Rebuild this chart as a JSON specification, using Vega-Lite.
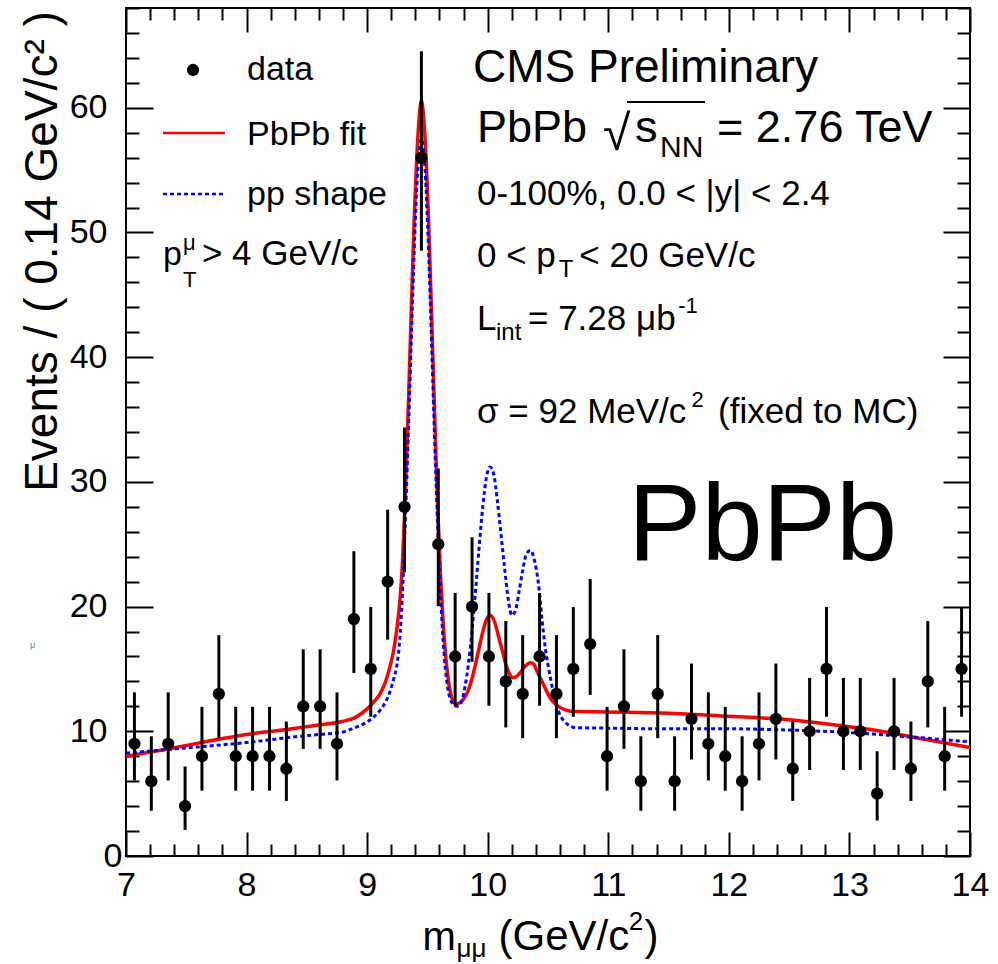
{
  "$schema": "https://vega.github.io/schema/vega-lite/v6.json",
  "width": 844,
  "height": 848,
  "autosize": {"type": "none"},
  "padding": {"left": 126, "top": 8, "right": 28, "bottom": 108},
  "background": "white",
  "config": {
    "view": {"stroke": "black", "strokeWidth": 2},
    "font": "Liberation Sans",
    "axis": {"labelFont": "Liberation Sans", "titleFont": "Liberation Sans", "labelColor": "black", "titleColor": "black", "tickColor": "black", "domain": false, "grid": false, "titleFontWeight": "normal"}
  },
  "datasets": {
    "pts": [
      {"m": 7.07, "n": 9, "lo": 6.06, "hi": 13.12},
      {"m": 7.21, "n": 6, "lo": 3.63, "hi": 9.60},
      {"m": 7.35, "n": 9, "lo": 6.06, "hi": 13.12},
      {"m": 7.49, "n": 4, "lo": 2.09, "hi": 7.18},
      {"m": 7.63, "n": 8, "lo": 5.24, "hi": 11.96},
      {"m": 7.77, "n": 13, "lo": 9.45, "hi": 17.71},
      {"m": 7.91, "n": 8, "lo": 5.24, "hi": 11.96},
      {"m": 8.05, "n": 8, "lo": 5.24, "hi": 11.96},
      {"m": 8.19, "n": 8, "lo": 5.24, "hi": 11.96},
      {"m": 8.33, "n": 7, "lo": 4.42, "hi": 10.78},
      {"m": 8.47, "n": 12, "lo": 8.59, "hi": 16.57},
      {"m": 8.61, "n": 12, "lo": 8.59, "hi": 16.57},
      {"m": 8.75, "n": 9, "lo": 6.06, "hi": 13.12},
      {"m": 8.89, "n": 19, "lo": 14.68, "hi": 24.44},
      {"m": 9.03, "n": 15, "lo": 11.17, "hi": 19.97},
      {"m": 9.17, "n": 22, "lo": 17.35, "hi": 27.77},
      {"m": 9.31, "n": 28, "lo": 22.74, "hi": 34.36},
      {"m": 9.45, "n": 56, "lo": 48.54, "hi": 64.53},
      {"m": 9.59, "n": 25, "lo": 20.04, "hi": 31.07},
      {"m": 9.73, "n": 16, "lo": 12.05, "hi": 21.09},
      {"m": 9.87, "n": 20, "lo": 15.57, "hi": 25.56},
      {"m": 10.01, "n": 16, "lo": 12.05, "hi": 21.09},
      {"m": 10.15, "n": 14, "lo": 10.31, "hi": 18.84},
      {"m": 10.29, "n": 13, "lo": 9.45, "hi": 17.71},
      {"m": 10.43, "n": 16, "lo": 12.05, "hi": 21.09},
      {"m": 10.57, "n": 13, "lo": 9.45, "hi": 17.71},
      {"m": 10.71, "n": 15, "lo": 11.17, "hi": 19.97},
      {"m": 10.85, "n": 17, "lo": 12.92, "hi": 22.21},
      {"m": 10.99, "n": 8, "lo": 5.24, "hi": 11.96},
      {"m": 11.13, "n": 12, "lo": 8.59, "hi": 16.57},
      {"m": 11.27, "n": 6, "lo": 3.63, "hi": 9.60},
      {"m": 11.41, "n": 13, "lo": 9.45, "hi": 17.71},
      {"m": 11.55, "n": 6, "lo": 3.63, "hi": 9.60},
      {"m": 11.69, "n": 11, "lo": 7.74, "hi": 15.43},
      {"m": 11.83, "n": 9, "lo": 6.06, "hi": 13.12},
      {"m": 11.97, "n": 8, "lo": 5.24, "hi": 11.96},
      {"m": 12.11, "n": 6, "lo": 3.63, "hi": 9.60},
      {"m": 12.25, "n": 9, "lo": 6.06, "hi": 13.12},
      {"m": 12.39, "n": 11, "lo": 7.74, "hi": 15.43},
      {"m": 12.53, "n": 7, "lo": 4.42, "hi": 10.78},
      {"m": 12.67, "n": 10, "lo": 6.90, "hi": 14.28},
      {"m": 12.81, "n": 15, "lo": 11.17, "hi": 19.97},
      {"m": 12.95, "n": 10, "lo": 6.90, "hi": 14.28},
      {"m": 13.09, "n": 10, "lo": 6.90, "hi": 14.28},
      {"m": 13.23, "n": 5, "lo": 2.85, "hi": 8.40},
      {"m": 13.37, "n": 10, "lo": 6.90, "hi": 14.28},
      {"m": 13.51, "n": 7, "lo": 4.42, "hi": 10.78},
      {"m": 13.65, "n": 14, "lo": 10.31, "hi": 18.84},
      {"m": 13.79, "n": 8, "lo": 5.24, "hi": 11.96},
      {"m": 13.93, "n": 15, "lo": 11.17, "hi": 19.97}
    ],
    "curves": [
      {"c": "PbPb fit", "m": 7.0, "n": 8.0}, {"c": "PbPb fit", "m": 7.3, "n": 8.5}, {"c": "PbPb fit", "m": 7.6, "n": 9.05}, {"c": "PbPb fit", "m": 8.0, "n": 9.75}, {"c": "PbPb fit", "m": 8.3, "n": 10.1}, {"c": "PbPb fit", "m": 8.6, "n": 10.5}, {"c": "PbPb fit", "m": 8.8, "n": 10.8}, {"c": "PbPb fit", "m": 8.9, "n": 11.1}, {"c": "PbPb fit", "m": 9.0, "n": 11.8}, {"c": "PbPb fit", "m": 9.05, "n": 12.3}, {"c": "PbPb fit", "m": 9.1, "n": 12.9}, {"c": "PbPb fit", "m": 9.15, "n": 13.9}, {"c": "PbPb fit", "m": 9.19, "n": 15.2}, {"c": "PbPb fit", "m": 9.22, "n": 16.5}, {"c": "PbPb fit", "m": 9.25, "n": 18.5}, {"c": "PbPb fit", "m": 9.27, "n": 20.3}, {"c": "PbPb fit", "m": 9.29, "n": 23.0}, {"c": "PbPb fit", "m": 9.31, "n": 27.3}, {"c": "PbPb fit", "m": 9.33, "n": 32.6}, {"c": "PbPb fit", "m": 9.35, "n": 38.7}, {"c": "PbPb fit", "m": 9.37, "n": 45.0}, {"c": "PbPb fit", "m": 9.39, "n": 51.0}, {"c": "PbPb fit", "m": 9.41, "n": 55.7}, {"c": "PbPb fit", "m": 9.43, "n": 59.0}, {"c": "PbPb fit", "m": 9.45, "n": 60.6}, {"c": "PbPb fit", "m": 9.47, "n": 59.0}, {"c": "PbPb fit", "m": 9.49, "n": 55.7}, {"c": "PbPb fit", "m": 9.51, "n": 50.8}, {"c": "PbPb fit", "m": 9.53, "n": 44.8}, {"c": "PbPb fit", "m": 9.55, "n": 38.5}, {"c": "PbPb fit", "m": 9.57, "n": 32.3}, {"c": "PbPb fit", "m": 9.59, "n": 26.8}, {"c": "PbPb fit", "m": 9.61, "n": 22.3}, {"c": "PbPb fit", "m": 9.63, "n": 18.8}, {"c": "PbPb fit", "m": 9.65, "n": 16.2}, {"c": "PbPb fit", "m": 9.68, "n": 13.7}, {"c": "PbPb fit", "m": 9.71, "n": 12.5}, {"c": "PbPb fit", "m": 9.74, "n": 12.2}, {"c": "PbPb fit", "m": 9.77, "n": 12.3}, {"c": "PbPb fit", "m": 9.8, "n": 12.6}, {"c": "PbPb fit", "m": 9.83, "n": 13.1}, {"c": "PbPb fit", "m": 9.86, "n": 13.9}, {"c": "PbPb fit", "m": 9.89, "n": 15.0}, {"c": "PbPb fit", "m": 9.92, "n": 16.3}, {"c": "PbPb fit", "m": 9.95, "n": 17.6}, {"c": "PbPb fit", "m": 9.98, "n": 18.7}, {"c": "PbPb fit", "m": 10.02, "n": 19.3}, {"c": "PbPb fit", "m": 10.06, "n": 18.7}, {"c": "PbPb fit", "m": 10.09, "n": 17.6}, {"c": "PbPb fit", "m": 10.12, "n": 16.5}, {"c": "PbPb fit", "m": 10.15, "n": 15.4}, {"c": "PbPb fit", "m": 10.18, "n": 14.6}, {"c": "PbPb fit", "m": 10.21, "n": 14.3}, {"c": "PbPb fit", "m": 10.24, "n": 14.4}, {"c": "PbPb fit", "m": 10.27, "n": 14.7}, {"c": "PbPb fit", "m": 10.3, "n": 15.1}, {"c": "PbPb fit", "m": 10.33, "n": 15.4}, {"c": "PbPb fit", "m": 10.355, "n": 15.5}, {"c": "PbPb fit", "m": 10.38, "n": 15.4}, {"c": "PbPb fit", "m": 10.41, "n": 14.8}, {"c": "PbPb fit", "m": 10.44, "n": 14.2}, {"c": "PbPb fit", "m": 10.47, "n": 13.6}, {"c": "PbPb fit", "m": 10.5, "n": 13.0}, {"c": "PbPb fit", "m": 10.53, "n": 12.5}, {"c": "PbPb fit", "m": 10.56, "n": 12.2}, {"c": "PbPb fit", "m": 10.6, "n": 11.9}, {"c": "PbPb fit", "m": 10.65, "n": 11.7}, {"c": "PbPb fit", "m": 10.7, "n": 11.6}, {"c": "PbPb fit", "m": 11.0, "n": 11.55}, {"c": "PbPb fit", "m": 11.5, "n": 11.45}, {"c": "PbPb fit", "m": 12.0, "n": 11.2}, {"c": "PbPb fit", "m": 12.4, "n": 11.0}, {"c": "PbPb fit", "m": 12.8, "n": 10.6}, {"c": "PbPb fit", "m": 13.2, "n": 10.1}, {"c": "PbPb fit", "m": 13.6, "n": 9.4}, {"c": "PbPb fit", "m": 14.0, "n": 8.7},
      {"c": "pp shape", "m": 7.0, "n": 8.25}, {"c": "pp shape", "m": 7.3, "n": 8.5}, {"c": "pp shape", "m": 7.6, "n": 8.75}, {"c": "pp shape", "m": 8.0, "n": 9.1}, {"c": "pp shape", "m": 8.3, "n": 9.45}, {"c": "pp shape", "m": 8.6, "n": 9.75}, {"c": "pp shape", "m": 8.8, "n": 9.95}, {"c": "pp shape", "m": 8.9, "n": 10.3}, {"c": "pp shape", "m": 9.0, "n": 10.75}, {"c": "pp shape", "m": 9.05, "n": 11.1}, {"c": "pp shape", "m": 9.1, "n": 11.6}, {"c": "pp shape", "m": 9.15, "n": 12.3}, {"c": "pp shape", "m": 9.19, "n": 13.2}, {"c": "pp shape", "m": 9.22, "n": 14.2}, {"c": "pp shape", "m": 9.25, "n": 15.5}, {"c": "pp shape", "m": 9.27, "n": 17.3}, {"c": "pp shape", "m": 9.29, "n": 20.5}, {"c": "pp shape", "m": 9.31, "n": 25.1}, {"c": "pp shape", "m": 9.33, "n": 30.5}, {"c": "pp shape", "m": 9.35, "n": 36.4}, {"c": "pp shape", "m": 9.37, "n": 42.6}, {"c": "pp shape", "m": 9.39, "n": 48.4}, {"c": "pp shape", "m": 9.41, "n": 53.3}, {"c": "pp shape", "m": 9.43, "n": 56.4}, {"c": "pp shape", "m": 9.45, "n": 57.5}, {"c": "pp shape", "m": 9.47, "n": 56.4}, {"c": "pp shape", "m": 9.49, "n": 53.3}, {"c": "pp shape", "m": 9.51, "n": 48.4}, {"c": "pp shape", "m": 9.53, "n": 42.6}, {"c": "pp shape", "m": 9.55, "n": 36.4}, {"c": "pp shape", "m": 9.57, "n": 30.5}, {"c": "pp shape", "m": 9.59, "n": 25.1}, {"c": "pp shape", "m": 9.61, "n": 20.7}, {"c": "pp shape", "m": 9.63, "n": 17.3}, {"c": "pp shape", "m": 9.65, "n": 14.9}, {"c": "pp shape", "m": 9.68, "n": 12.9}, {"c": "pp shape", "m": 9.71, "n": 12.2}, {"c": "pp shape", "m": 9.74, "n": 12.0}, {"c": "pp shape", "m": 9.78, "n": 12.3}, {"c": "pp shape", "m": 9.81, "n": 13.5}, {"c": "pp shape", "m": 9.84, "n": 15.4}, {"c": "pp shape", "m": 9.87, "n": 18.1}, {"c": "pp shape", "m": 9.9, "n": 21.4}, {"c": "pp shape", "m": 9.93, "n": 24.9}, {"c": "pp shape", "m": 9.96, "n": 28.1}, {"c": "pp shape", "m": 9.99, "n": 30.4}, {"c": "pp shape", "m": 10.02, "n": 31.2}, {"c": "pp shape", "m": 10.05, "n": 30.6}, {"c": "pp shape", "m": 10.08, "n": 28.5}, {"c": "pp shape", "m": 10.11, "n": 25.8}, {"c": "pp shape", "m": 10.14, "n": 23.1}, {"c": "pp shape", "m": 10.17, "n": 20.6}, {"c": "pp shape", "m": 10.2, "n": 19.3}, {"c": "pp shape", "m": 10.23, "n": 19.7}, {"c": "pp shape", "m": 10.26, "n": 21.2}, {"c": "pp shape", "m": 10.29, "n": 22.9}, {"c": "pp shape", "m": 10.32, "n": 24.2}, {"c": "pp shape", "m": 10.355, "n": 24.5}, {"c": "pp shape", "m": 10.39, "n": 23.6}, {"c": "pp shape", "m": 10.42, "n": 21.9}, {"c": "pp shape", "m": 10.45, "n": 19.0}, {"c": "pp shape", "m": 10.48, "n": 16.5}, {"c": "pp shape", "m": 10.51, "n": 14.8}, {"c": "pp shape", "m": 10.54, "n": 13.3}, {"c": "pp shape", "m": 10.57, "n": 12.1}, {"c": "pp shape", "m": 10.6, "n": 11.3}, {"c": "pp shape", "m": 10.63, "n": 10.85}, {"c": "pp shape", "m": 10.67, "n": 10.5}, {"c": "pp shape", "m": 10.72, "n": 10.3}, {"c": "pp shape", "m": 11.0, "n": 10.25}, {"c": "pp shape", "m": 11.5, "n": 10.2}, {"c": "pp shape", "m": 12.0, "n": 10.2}, {"c": "pp shape", "m": 12.5, "n": 10.1}, {"c": "pp shape", "m": 13.0, "n": 9.9}, {"c": "pp shape", "m": 13.5, "n": 9.55}, {"c": "pp shape", "m": 14.0, "n": 9.15}
    ]
  },
  "data": {"values": [{}]},
  "layer": [
    {
      "data": {"name": "curves"},
      "transform": [{"filter": "datum.c == 'PbPb fit'"}],
      "mark": {"type": "line", "color": "#ff0000", "strokeWidth": 3.5, "interpolate": "monotone", "clip": true},
      "encoding": {
        "x": {"field": "m", "type": "quantitative", "scale": {"domain": [7, 14], "nice": false, "zero": false},
          "axis": {"orient": "bottom", "title": null,
            "values": [7,7.2,7.4,7.6,7.8,8,8.2,8.4,8.6,8.8,9,9.2,9.4,9.6,9.8,10,10.2,10.4,10.6,10.8,11,11.2,11.4,11.6,11.8,12,12.2,12.4,12.6,12.8,13,13.2,13.4,13.6,13.8,14],
            "labelExpr": "abs(datum.value - round(datum.value)) < 0.001 ? format(datum.value, 'd') : ''",
            "tickSize": {"condition": {"test": "abs(datum.value - round(datum.value)) < 0.001", "value": -24}, "value": -12},
            "tickWidth": 2, "labelFontSize": 34, "labelPadding": 36, "labelOverlap": false, "labelFlush": false, "labelBound": false}},
        "y": {"field": "n", "type": "quantitative", "scale": {"domain": [0, 68], "nice": false, "zero": false},
          "axis": {"orient": "left", "title": "Events / ( 0.14 GeV/c² )", "titleFontSize": 46, "titleAngle": 270, "titleX": -84, "titleY": 243, "titleAlign": "center", "titleBaseline": "middle",
            "values": [0,2,4,6,8,10,12,14,16,18,20,22,24,26,28,30,32,34,36,38,40,42,44,46,48,50,52,54,56,58,60,62,64,66,68],
            "labelExpr": "datum.value % 10 == 0 ? format(datum.value, 'd') : ''",
            "tickSize": {"condition": {"test": "datum.value % 10 == 0", "value": -27}, "value": -13},
            "labelPadding": {"condition": {"test": "datum.value == 0", "value": 31}, "value": 46},
            "tickWidth": 2, "labelFontSize": 34, "labelOverlap": false, "labelFlush": false, "labelBound": false}}
      }
    },
    {
      "data": {"name": "curves"},
      "transform": [{"filter": "datum.c == 'pp shape'"}],
      "mark": {"type": "line", "color": "#0000ff", "strokeWidth": 3, "strokeDash": [4, 3], "interpolate": "monotone", "clip": true},
      "encoding": {
        "x": {"field": "m", "type": "quantitative", "axis": null},
        "y": {"field": "n", "type": "quantitative", "axis": null}
      }
    },
    {
      "data": {"name": "pts"},
      "mark": {"type": "rule", "color": "black", "strokeWidth": 3},
      "encoding": {
        "x": {"field": "m", "type": "quantitative", "axis": null},
        "y": {"field": "lo", "type": "quantitative", "axis": null},
        "y2": {"field": "hi"}
      }
    },
    {
      "data": {"name": "pts"},
      "mark": {"type": "circle", "color": "black", "size": 150, "opacity": 1},
      "encoding": {
        "x": {"field": "m", "type": "quantitative", "axis": null},
        "y": {"field": "n", "type": "quantitative", "axis": null}
      }
    },
    {"mark": {"type": "circle", "color": "black", "size": 150, "opacity": 1},
      "encoding": {"x": {"datum": 7.556, "type": "quantitative", "axis": null}, "y": {"datum": 63.03, "type": "quantitative", "axis": null}}},
    {"mark": {"type": "rule", "color": "#ff0000", "strokeWidth": 2.5},
      "encoding": {"x": {"datum": 7.307, "type": "quantitative", "axis": null}, "x2": {"datum": 7.821}, "y": {"datum": 57.98, "type": "quantitative", "axis": null}}},
    {"mark": {"type": "rule", "color": "#0000ff", "strokeWidth": 2.5, "strokeDash": [4, 3]},
      "encoding": {"x": {"datum": 7.307, "type": "quantitative", "axis": null}, "x2": {"datum": 7.821}, "y": {"datum": 53.09, "type": "quantitative", "axis": null}}},
    {"mark": {"type": "rule", "color": "black", "strokeWidth": 2},
      "encoding": {"x": {"datum": 11.155, "type": "quantitative", "axis": null}, "x2": {"datum": 11.802}, "y": {"datum": 60.47, "type": "quantitative", "axis": null}}},
    {"mark": {"type": "text", "text": "data", "fontSize": 34, "align": "left", "baseline": "alphabetic", "color": "black"},
      "encoding": {"x": {"datum": 8.004, "type": "quantitative", "axis": null}, "y": {"datum": 62.23, "type": "quantitative", "axis": null}}},
    {"mark": {"type": "text", "text": "PbPb fit", "fontSize": 34, "align": "left", "baseline": "alphabetic", "color": "black"},
      "encoding": {"x": {"datum": 8.004, "type": "quantitative", "axis": null}, "y": {"datum": 57.02, "type": "quantitative", "axis": null}}},
    {"mark": {"type": "text", "text": "pp shape", "fontSize": 34, "align": "left", "baseline": "alphabetic", "color": "black"},
      "encoding": {"x": {"datum": 8.004, "type": "quantitative", "axis": null}, "y": {"datum": 52.21, "type": "quantitative", "axis": null}}},
    {"mark": {"type": "text", "text": "p", "fontSize": 34, "align": "left", "baseline": "alphabetic", "color": "black"},
      "encoding": {"x": {"datum": 7.307, "type": "quantitative", "axis": null}, "y": {"datum": 47.39, "type": "quantitative", "axis": null}}},
    {"mark": {"type": "text", "text": "μ", "fontSize": 22, "align": "left", "baseline": "alphabetic", "color": "black"},
      "encoding": {"x": {"datum": 7.473, "type": "quantitative", "axis": null}, "y": {"datum": 48.6, "type": "quantitative", "axis": null}}},
    {"mark": {"type": "text", "text": "T", "fontSize": 22, "align": "left", "baseline": "alphabetic", "color": "black"},
      "encoding": {"x": {"datum": 7.473, "type": "quantitative", "axis": null}, "y": {"datum": 45.63, "type": "quantitative", "axis": null}}},
    {"mark": {"type": "text", "text": "> 4 GeV/c", "fontSize": 35, "align": "left", "baseline": "alphabetic", "color": "black"},
      "encoding": {"x": {"datum": 7.63, "type": "quantitative", "axis": null}, "y": {"datum": 47.39, "type": "quantitative", "axis": null}}},
    {"mark": {"type": "text", "text": "CMS Preliminary", "fontSize": 46, "align": "left", "baseline": "alphabetic", "color": "black"},
      "encoding": {"x": {"datum": 9.878, "type": "quantitative", "axis": null}, "y": {"datum": 62.07, "type": "quantitative", "axis": null}}},
    {"mark": {"type": "text", "text": "PbPb", "fontSize": 45, "align": "left", "baseline": "alphabetic", "color": "black"},
      "encoding": {"x": {"datum": 9.911, "type": "quantitative", "axis": null}, "y": {"datum": 57.26, "type": "quantitative", "axis": null}}},
    {"mark": {"type": "text", "text": "√", "fontSize": 50, "align": "left", "baseline": "alphabetic", "color": "black"},
      "encoding": {"x": {"datum": 10.956, "type": "quantitative", "axis": null}, "y": {"datum": 56.6, "type": "quantitative", "axis": null}}},
    {"mark": {"type": "text", "text": "s", "fontSize": 45, "align": "left", "baseline": "alphabetic", "color": "black"},
      "encoding": {"x": {"datum": 11.222, "type": "quantitative", "axis": null}, "y": {"datum": 57.26, "type": "quantitative", "axis": null}}},
    {"mark": {"type": "text", "text": "NN", "fontSize": 30, "align": "left", "baseline": "alphabetic", "color": "black"},
      "encoding": {"x": {"datum": 11.429, "type": "quantitative", "axis": null}, "y": {"datum": 56.05, "type": "quantitative", "axis": null}}},
    {"mark": {"type": "text", "text": "= 2.76 TeV", "fontSize": 45, "align": "left", "baseline": "alphabetic", "color": "black"},
      "encoding": {"x": {"datum": 11.902, "type": "quantitative", "axis": null}, "y": {"datum": 57.26, "type": "quantitative", "axis": null}}},
    {"mark": {"type": "text", "text": "0-100%, 0.0 < |y| < 2.4", "fontSize": 35, "align": "left", "baseline": "alphabetic", "color": "black"},
      "encoding": {"x": {"datum": 9.911, "type": "quantitative", "axis": null}, "y": {"datum": 52.21, "type": "quantitative", "axis": null}}},
    {"mark": {"type": "text", "text": "0 < p", "fontSize": 35, "align": "left", "baseline": "alphabetic", "color": "black"},
      "encoding": {"x": {"datum": 9.911, "type": "quantitative", "axis": null}, "y": {"datum": 47.23, "type": "quantitative", "axis": null}}},
    {"mark": {"type": "text", "text": "T", "fontSize": 24, "align": "left", "baseline": "alphabetic", "color": "black"},
      "encoding": {"x": {"datum": 10.59, "type": "quantitative", "axis": null}, "y": {"datum": 46.43, "type": "quantitative", "axis": null}}},
    {"mark": {"type": "text", "text": "< 20 GeV/c", "fontSize": 35, "align": "left", "baseline": "alphabetic", "color": "black"},
      "encoding": {"x": {"datum": 10.76, "type": "quantitative", "axis": null}, "y": {"datum": 47.23, "type": "quantitative", "axis": null}}},
    {"mark": {"type": "text", "text": "L", "fontSize": 35, "align": "left", "baseline": "alphabetic", "color": "black"},
      "encoding": {"x": {"datum": 9.911, "type": "quantitative", "axis": null}, "y": {"datum": 42.18, "type": "quantitative", "axis": null}}},
    {"mark": {"type": "text", "text": "int", "fontSize": 24, "align": "left", "baseline": "alphabetic", "color": "black"},
      "encoding": {"x": {"datum": 10.069, "type": "quantitative", "axis": null}, "y": {"datum": 41.38, "type": "quantitative", "axis": null}}},
    {"mark": {"type": "text", "text": "= 7.28 μb", "fontSize": 35, "align": "left", "baseline": "alphabetic", "color": "black"},
      "encoding": {"x": {"datum": 10.334, "type": "quantitative", "axis": null}, "y": {"datum": 42.18, "type": "quantitative", "axis": null}}},
    {"mark": {"type": "text", "text": "-1", "fontSize": 22, "align": "left", "baseline": "alphabetic", "color": "black"},
      "encoding": {"x": {"datum": 11.58, "type": "quantitative", "axis": null}, "y": {"datum": 43.54, "type": "quantitative", "axis": null}}},
    {"mark": {"type": "text", "text": "σ = 92 MeV/c", "fontSize": 35, "align": "left", "baseline": "alphabetic", "color": "black"},
      "encoding": {"x": {"datum": 9.911, "type": "quantitative", "axis": null}, "y": {"datum": 34.72, "type": "quantitative", "axis": null}}},
    {"mark": {"type": "text", "text": "2", "fontSize": 22, "align": "left", "baseline": "alphabetic", "color": "black"},
      "encoding": {"x": {"datum": 11.69, "type": "quantitative", "axis": null}, "y": {"datum": 36.01, "type": "quantitative", "axis": null}}},
    {"mark": {"type": "text", "text": "(fixed to MC)", "fontSize": 35, "align": "left", "baseline": "alphabetic", "color": "black"},
      "encoding": {"x": {"datum": 11.91, "type": "quantitative", "axis": null}, "y": {"datum": 34.72, "type": "quantitative", "axis": null}}},
    {"mark": {"type": "text", "text": "PbPb", "fontSize": 110, "align": "left", "baseline": "alphabetic", "color": "black"},
      "encoding": {"x": {"datum": 11.164, "type": "quantitative", "axis": null}, "y": {"datum": 23.74, "type": "quantitative", "axis": null}}},
    {"mark": {"type": "text", "text": "m", "fontSize": 40, "align": "left", "baseline": "alphabetic", "color": "black"},
      "encoding": {"x": {"datum": 9.46, "type": "quantitative", "axis": null}, "y": {"datum": -7.54, "type": "quantitative", "axis": null}}},
    {"mark": {"type": "text", "text": "μμ", "fontSize": 26, "align": "left", "baseline": "alphabetic", "color": "black"},
      "encoding": {"x": {"datum": 9.742, "type": "quantitative", "axis": null}, "y": {"datum": -8.1, "type": "quantitative", "axis": null}}},
    {"mark": {"type": "text", "text": "(GeV/c", "fontSize": 42, "align": "left", "baseline": "alphabetic", "color": "black"},
      "encoding": {"x": {"datum": 10.09, "type": "quantitative", "axis": null}, "y": {"datum": -7.54, "type": "quantitative", "axis": null}}},
    {"mark": {"type": "text", "text": "2", "fontSize": 26, "align": "left", "baseline": "alphabetic", "color": "black"},
      "encoding": {"x": {"datum": 11.17, "type": "quantitative", "axis": null}, "y": {"datum": -5.93, "type": "quantitative", "axis": null}}},
    {"mark": {"type": "text", "text": ")", "fontSize": 42, "align": "left", "baseline": "alphabetic", "color": "black"},
      "encoding": {"x": {"datum": 11.3, "type": "quantitative", "axis": null}, "y": {"datum": -7.54, "type": "quantitative", "axis": null}}},
    {"mark": {"type": "text", "text": "μ", "fontSize": 9, "align": "left", "baseline": "middle", "color": "#4a7fb0"},
      "encoding": {"x": {"datum": 6.204, "type": "quantitative", "axis": null}, "y": {"datum": 16.92, "type": "quantitative", "axis": null}}},
    {
      "data": {"name": "pts"},
      "mark": {"type": "point", "opacity": 0},
      "encoding": {
        "x": {"field": "m", "type": "quantitative", "scale": {"domain": [7, 14], "nice": false, "zero": false},
          "axis": {"orient": "top", "title": null, "labels": false,
            "values": [7,7.2,7.4,7.6,7.8,8,8.2,8.4,8.6,8.8,9,9.2,9.4,9.6,9.8,10,10.2,10.4,10.6,10.8,11,11.2,11.4,11.6,11.8,12,12.2,12.4,12.6,12.8,13,13.2,13.4,13.6,13.8,14],
            "tickSize": {"condition": {"test": "abs(datum.value - round(datum.value)) < 0.001", "value": -24}, "value": -12},
            "tickWidth": 2}},
        "y": {"field": "n", "type": "quantitative", "scale": {"domain": [0, 68], "nice": false, "zero": false},
          "axis": {"orient": "right", "title": null, "labels": false,
            "values": [0,2,4,6,8,10,12,14,16,18,20,22,24,26,28,30,32,34,36,38,40,42,44,46,48,50,52,54,56,58,60,62,64,66,68],
            "tickSize": {"condition": {"test": "datum.value % 10 == 0", "value": -27}, "value": -13},
            "tickWidth": 2}}
      }
    }
  ],
  "resolve": {"axis": {"x": "independent", "y": "independent"}}
}
